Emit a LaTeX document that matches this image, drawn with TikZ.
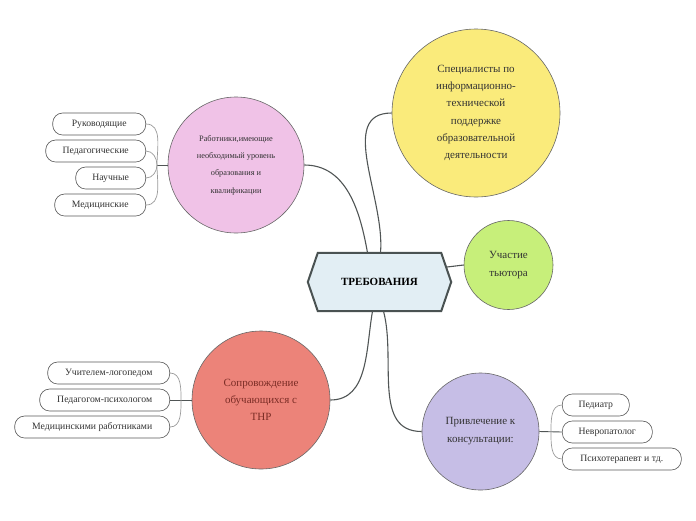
\documentclass[tikz,border=0pt]{standalone}
\usepackage{fontspec}
\setmainfont{Liberation Serif}
\usetikzlibrary{calc}
\definecolor{hexfill}{HTML}{E2EEF4}
\definecolor{hexline}{HTML}{4A5252}
\definecolor{cpink}{HTML}{F0C2E7}
\definecolor{cyellow}{HTML}{FAEB7B}
\definecolor{cgreen}{HTML}{C7EF7A}
\definecolor{cred}{HTML}{EC8379}
\definecolor{cpurple}{HTML}{C6BEE6}
\definecolor{txt}{HTML}{333333}
\definecolor{redtxt}{HTML}{7A2C25}
\definecolor{conn}{HTML}{505555}
\definecolor{brace}{HTML}{9A9A9A}
\begin{document}
\begin{tikzpicture}[x=1pt,y=-1pt,
  topic/.style={circle, draw=black!60, line width=0.6pt, inner sep=0pt, align=center, text=txt},
  leaf/.style={draw=black!65, line width=0.6pt, rounded corners=10pt, minimum height=22pt, fill=white, inner sep=2pt, font=\fontsize{9.7}{10}\selectfont, text=txt},
  link/.style={draw=conn, line width=1.1pt},
  brc/.style={draw=brace, line width=0.7pt}]
\useasboundingbox (0,0) rectangle (696,520);
% central
\node[minimum width=143pt, minimum height=58pt, inner sep=0pt] (req) at (379.5,282) {};
\draw[fill=hexfill, draw=hexline, line width=2pt]
  (req.west) -- ($(req.north west)+(10,0)$) -- ($(req.north east)+(-10,0)$) -- (req.east)
  -- ($(req.south east)+(-10,0)$) -- ($(req.south west)+(10,0)$) -- cycle;
\node[font=\bfseries\fontsize{11}{12}\selectfont, text=black] (reqt) at (req.center) {ТРЕБОВАНИЯ};
% topics
\node[topic, fill=cpink, minimum size=136pt, font=\fontsize{8.3}{17.3}\selectfont] (pink) at (236,165)
  {Работники,имеющие\\необходимый уровень\\образования и\\квалификации};
\node[topic, fill=cyellow, minimum size=168pt, font=\fontsize{11}{17.2}\selectfont] (yel) at (476,113)
  {Специалисты по\\информационно-\\технической\\поддержке\\образовательной\\деятельности};
\node[topic, fill=cgreen, minimum size=89pt, font=\fontsize{11}{18}\selectfont] (grn) at (508.5,265)
  {Участие\\тьютора};
\node[topic, fill=cred, minimum size=138pt, text=redtxt, font=\fontsize{11}{17}\selectfont] (red) at (261,400)
  {Сопровождение\\обучающихся с\\ТНР};
\node[topic, fill=cpurple, minimum size=117pt, font=\fontsize{11}{18}\selectfont] (pur) at (480.5,431.5)
  {Привлечение к\\консультации:};
% links from center
\coordinate (s1) at ($(req.north)+(-12,0)$);
\coordinate (s2) at ($(req.north)+(1,0)$);
\coordinate (s3) at ($(req.south)+(-7,0)$);
\coordinate (s4) at ($(req.south)+(4,0)$);
\coordinate (s5) at (447,267);
\draw[link] (s1) to[out=100,in=0] (pink.east);
\draw[link] (s2) to[out=85,in=180] (yel.west);
\draw[link] (s5) -- (grn.west);
\draw[link] (s3) to[out=-100,in=0] (red.east);
\draw[link] (s4) to[out=-75,in=180] (pur.west);
% pink leaves
\node[leaf, minimum width=93pt, anchor=east] (p1) at (146,124) {Руководящие};
\node[leaf, minimum width=100pt, anchor=east] (p2) at (146,151) {Педагогические};
\node[leaf, minimum width=70pt, anchor=east] (p3) at (146,178) {Научные};
\node[leaf, minimum width=91pt, anchor=east] (p4) at (146,205) {Медицинские};
\coordinate (pj) at (157,165);
\draw[link, line width=0.9pt] (pink.west) -- (pj);
\draw[brc] (pj) to[out=90,in=0] (p1.east);
\draw[brc] (pj) to[out=90,in=0] (p2.east);
\draw[brc] (pj) to[out=-90,in=0] (p3.east);
\draw[brc] (pj) to[out=-90,in=0] (p4.east);
% red leaves
\node[leaf, minimum width=122pt, anchor=east] (r1) at (170,373) {Учителем-логопедом};
\node[leaf, minimum width=130pt, anchor=east] (r2) at (170,400) {Педагогом-психологом};
\node[leaf, minimum width=155pt, anchor=east] (r3) at (170,427) {Медицинскими работниками};
\coordinate (rj) at (181,400);
\draw[link, line width=0.9pt] (red.west) -- (r2.east);
\draw[brc] (rj) to[out=90,in=0] (r1.east);
\draw[brc] (rj) to[out=-90,in=0] (r3.east);
% purple leaves
\node[leaf, minimum width=67pt, anchor=west] (u1) at (562,405) {Педиатр};
\node[leaf, minimum width=90pt, anchor=west] (u2) at (562,432) {Невропатолог};
\node[leaf, minimum width=119pt, anchor=west] (u3) at (562,459) {Психотерапевт и тд.};
\coordinate (uj) at (551,432);
\draw[link, line width=0.9pt] (pur.east) -- (u2.west);
\draw[brc] (uj) to[out=90,in=180] (u1.west);
\draw[brc] (uj) to[out=-90,in=180] (u3.west);
\end{tikzpicture}
\end{document}
